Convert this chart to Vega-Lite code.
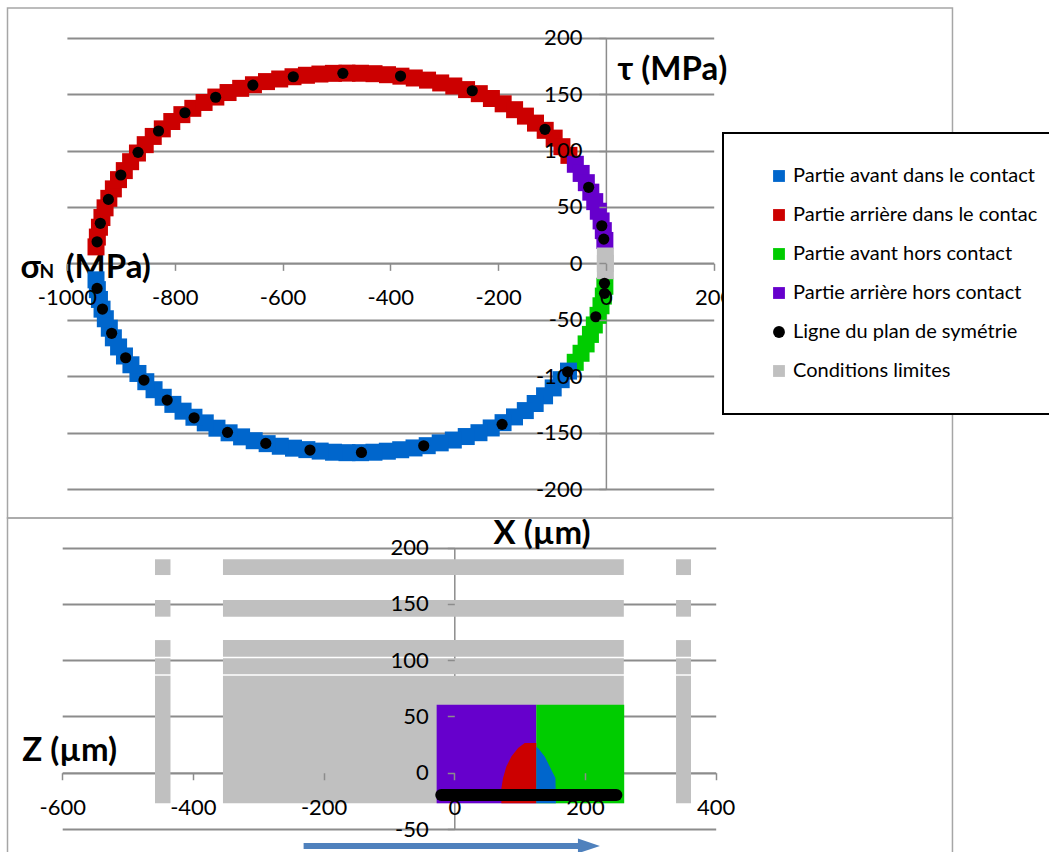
{
  "$schema": "https://vega.github.io/schema/vega-lite/v6.json",
  "width": 1049,
  "height": 852,
  "autosize": "none",
  "padding": 0,
  "background": "white",
  "config": {
    "view": {"stroke": null},
    "font": "Lato, Open Sans, sans-serif",
    "legend": {"strokeWidth": 2},
    "axis": {
      "labelFont": "Lato, Open Sans, sans-serif",
      "labelFontSize": 22,
      "labelColor": "black",
      "labelOverlap": false,
      "labelFlush": false,
      "labelExpr": "'' + datum.value",
      "tickColor": "#8c8c8c",
      "tickSize": 7,
      "tickWidth": 1.5,
      "domainColor": "#8c8c8c",
      "domainWidth": 1.5,
      "gridColor": "#8c8c8c",
      "gridWidth": 2,
      "titleFont": "Lato, Open Sans, sans-serif",
      "titleFontWeight": "bold",
      "titleFontSize": 33,
      "titleColor": "black",
      "titleAngle": 0,
      "titleAlign": "left",
      "titleBaseline": "alphabetic"
    }
  },
  "datasets": {
    "frameTop": [{"x1": -1110.2, "x2": 643, "y1": 226.3, "y2": -225.7}],
    "frameBottom": [{"x1": -683.7, "x2": 762.3, "y1": 226.4, "y2": -80}],
    "band": [
      {"s": -946.0, "t": 14.6, "serie": "Partie arrière dans le contac"},
      {"s": -943.5, "t": 23.3, "serie": "Partie arrière dans le contac"},
      {"s": -939.6, "t": 32.0, "serie": "Partie arrière dans le contac"},
      {"s": -935.0, "t": 40.6, "serie": "Partie arrière dans le contac"},
      {"s": -929.2, "t": 49.2, "serie": "Partie arrière dans le contac"},
      {"s": -922.2, "t": 57.6, "serie": "Partie arrière dans le contac"},
      {"s": -913.8, "t": 66.0, "serie": "Partie arrière dans le contac"},
      {"s": -904.3, "t": 74.2, "serie": "Partie arrière dans le contac"},
      {"s": -893.5, "t": 82.2, "serie": "Partie arrière dans le contac"},
      {"s": -881.8, "t": 90.1, "serie": "Partie arrière dans le contac"},
      {"s": -869.1, "t": 97.8, "serie": "Partie arrière dans le contac"},
      {"s": -854.7, "t": 105.2, "serie": "Partie arrière dans le contac"},
      {"s": -839.8, "t": 112.5, "serie": "Partie arrière dans le contac"},
      {"s": -823.0, "t": 119.2, "serie": "Partie arrière dans le contac"},
      {"s": -805.4, "t": 125.7, "serie": "Partie arrière dans le contac"},
      {"s": -786.7, "t": 131.8, "serie": "Partie arrière dans le contac"},
      {"s": -766.4, "t": 137.4, "serie": "Partie arrière dans le contac"},
      {"s": -745.5, "t": 142.6, "serie": "Partie arrière dans le contac"},
      {"s": -723.7, "t": 147.4, "serie": "Partie arrière dans le contac"},
      {"s": -701.0, "t": 151.4, "serie": "Partie arrière dans le contac"},
      {"s": -677.6, "t": 155.1, "serie": "Partie arrière dans le contac"},
      {"s": -653.9, "t": 158.3, "serie": "Partie arrière dans le contac"},
      {"s": -629.7, "t": 161.1, "serie": "Partie arrière dans le contac"},
      {"s": -605.2, "t": 163.4, "serie": "Partie arrière dans le contac"},
      {"s": -580.5, "t": 165.4, "serie": "Partie arrière dans le contac"},
      {"s": -555.6, "t": 166.7, "serie": "Partie arrière dans le contac"},
      {"s": -530.6, "t": 167.8, "serie": "Partie arrière dans le contac"},
      {"s": -505.5, "t": 168.4, "serie": "Partie arrière dans le contac"},
      {"s": -480.4, "t": 168.6, "serie": "Partie arrière dans le contac"},
      {"s": -455.3, "t": 168.5, "serie": "Partie arrière dans le contac"},
      {"s": -430.2, "t": 168.1, "serie": "Partie arrière dans le contac"},
      {"s": -405.2, "t": 167.2, "serie": "Partie arrière dans le contac"},
      {"s": -380.3, "t": 165.9, "serie": "Partie arrière dans le contac"},
      {"s": -355.5, "t": 164.3, "serie": "Partie arrière dans le contac"},
      {"s": -330.9, "t": 162.4, "serie": "Partie arrière dans le contac"},
      {"s": -306.5, "t": 159.9, "serie": "Partie arrière dans le contac"},
      {"s": -282.2, "t": 157.2, "serie": "Partie arrière dans le contac"},
      {"s": -258.5, "t": 154.0, "serie": "Partie arrière dans le contac"},
      {"s": -234.9, "t": 150.4, "serie": "Partie arrière dans le contac"},
      {"s": -212.4, "t": 146.1, "serie": "Partie arrière dans le contac"},
      {"s": -190.6, "t": 141.4, "serie": "Partie arrière dans le contac"},
      {"s": -169.4, "t": 136.2, "serie": "Partie arrière dans le contac"},
      {"s": -149.3, "t": 130.5, "serie": "Partie arrière dans le contac"},
      {"s": -130.6, "t": 124.3, "serie": "Partie arrière dans le contac"},
      {"s": -112.6, "t": 117.9, "serie": "Partie arrière dans le contac"},
      {"s": -96.0, "t": 111.0, "serie": "Partie arrière dans le contac"},
      {"s": -81.6, "t": 103.4, "serie": "Partie arrière dans le contac"},
      {"s": -68.6, "t": 95.7, "serie": "Partie arrière dans le contac"},
      {"s": -56.7, "t": 87.8, "serie": "Partie arrière hors contact"},
      {"s": -45.9, "t": 79.7, "serie": "Partie arrière hors contact"},
      {"s": -36.3, "t": 71.5, "serie": "Partie arrière hors contact"},
      {"s": -28.0, "t": 63.1, "serie": "Partie arrière hors contact"},
      {"s": -20.7, "t": 54.7, "serie": "Partie arrière hors contact"},
      {"s": -14.1, "t": 46.2, "serie": "Partie arrière hors contact"},
      {"s": -8.9, "t": 37.6, "serie": "Partie arrière hors contact"},
      {"s": -4.8, "t": 29.0, "serie": "Partie arrière hors contact"},
      {"s": -1.9, "t": 20.3, "serie": "Partie arrière hors contact"},
      {"s": -1.9, "t": -20.3, "serie": "Partie avant hors contact"},
      {"s": -4.8, "t": -29.0, "serie": "Partie avant hors contact"},
      {"s": -9.1, "t": -37.6, "serie": "Partie avant hors contact"},
      {"s": -14.6, "t": -46.1, "serie": "Partie avant hors contact"},
      {"s": -21.5, "t": -54.6, "serie": "Partie avant hors contact"},
      {"s": -28.7, "t": -63.0, "serie": "Partie avant hors contact"},
      {"s": -36.7, "t": -71.4, "serie": "Partie avant hors contact"},
      {"s": -46.1, "t": -79.7, "serie": "Partie avant hors contact"},
      {"s": -56.9, "t": -87.7, "serie": "Partie avant hors contact"},
      {"s": -69.4, "t": -95.5, "serie": "Partie avant dans le contact"},
      {"s": -83.0, "t": -103.1, "serie": "Partie avant dans le contact"},
      {"s": -97.8, "t": -110.4, "serie": "Partie avant dans le contact"},
      {"s": -113.8, "t": -117.4, "serie": "Partie avant dans le contact"},
      {"s": -131.2, "t": -124.2, "serie": "Partie avant dans le contact"},
      {"s": -149.5, "t": -130.5, "serie": "Partie avant dans le contact"},
      {"s": -169.6, "t": -136.1, "serie": "Partie avant dans le contact"},
      {"s": -190.8, "t": -141.2, "serie": "Partie avant dans le contact"},
      {"s": -212.8, "t": -145.9, "serie": "Partie avant dans le contact"},
      {"s": -235.5, "t": -150.1, "serie": "Partie avant dans le contact"},
      {"s": -259.1, "t": -153.5, "serie": "Partie avant dans le contact"},
      {"s": -283.1, "t": -156.6, "serie": "Partie avant dans le contact"},
      {"s": -307.4, "t": -159.1, "serie": "Partie avant dans le contact"},
      {"s": -331.5, "t": -161.6, "serie": "Partie avant dans le contact"},
      {"s": -356.0, "t": -163.6, "serie": "Partie avant dans le contact"},
      {"s": -380.7, "t": -165.2, "serie": "Partie avant dans le contact"},
      {"s": -405.5, "t": -166.5, "serie": "Partie avant dans le contact"},
      {"s": -430.3, "t": -167.4, "serie": "Partie avant dans le contact"},
      {"s": -455.3, "t": -167.8, "serie": "Partie avant dans le contact"},
      {"s": -480.4, "t": -167.8, "serie": "Partie avant dans le contact"},
      {"s": -505.3, "t": -167.4, "serie": "Partie avant dans le contact"},
      {"s": -530.1, "t": -166.4, "serie": "Partie avant dans le contact"},
      {"s": -554.8, "t": -165.1, "serie": "Partie avant dans le contact"},
      {"s": -579.6, "t": -163.8, "serie": "Partie avant dans le contact"},
      {"s": -604.1, "t": -162.1, "serie": "Partie avant dans le contact"},
      {"s": -628.5, "t": -159.8, "serie": "Partie avant dans le contact"},
      {"s": -652.5, "t": -157.2, "serie": "Partie avant dans le contact"},
      {"s": -675.9, "t": -153.8, "serie": "Partie avant dans le contact"},
      {"s": -699.1, "t": -150.2, "serie": "Partie avant dans le contact"},
      {"s": -721.6, "t": -146.1, "serie": "Partie avant dans le contact"},
      {"s": -743.3, "t": -141.4, "serie": "Partie avant dans le contact"},
      {"s": -764.3, "t": -136.4, "serie": "Partie avant dans le contact"},
      {"s": -784.5, "t": -131.0, "serie": "Partie avant dans le contact"},
      {"s": -803.4, "t": -125.0, "serie": "Partie avant dans le contact"},
      {"s": -821.3, "t": -118.7, "serie": "Partie avant dans le contact"},
      {"s": -838.3, "t": -112.0, "serie": "Partie avant dans le contact"},
      {"s": -853.6, "t": -104.9, "serie": "Partie avant dans le contact"},
      {"s": -868.2, "t": -97.6, "serie": "Partie avant dans le contact"},
      {"s": -881.2, "t": -89.9, "serie": "Partie avant dans le contact"},
      {"s": -893.2, "t": -82.1, "serie": "Partie avant dans le contact"},
      {"s": -904.1, "t": -74.1, "serie": "Partie avant dans le contact"},
      {"s": -913.8, "t": -66.0, "serie": "Partie avant dans le contact"},
      {"s": -921.3, "t": -57.5, "serie": "Partie avant dans le contact"},
      {"s": -928.7, "t": -49.1, "serie": "Partie avant dans le contact"},
      {"s": -934.8, "t": -40.6, "serie": "Partie avant dans le contact"},
      {"s": -939.6, "t": -32.0, "serie": "Partie avant dans le contact"},
      {"s": -943.5, "t": -23.3, "serie": "Partie avant dans le contact"},
      {"s": -946.0, "t": -14.6, "serie": "Partie avant dans le contact"},
      {"s": -1, "t": -6.5, "serie": "Conditions limites"},
      {"s": -1, "t": 0, "serie": "Conditions limites"},
      {"s": -1, "t": 6.5, "serie": "Conditions limites"}
    ],
    "dots": [
      {"s": -944, "t": 19.1, "serie": "Ligne du plan de symétrie"},
      {"s": -938, "t": 35.5, "serie": "Ligne du plan de symétrie"},
      {"s": -923, "t": 56.7, "serie": "Ligne du plan de symétrie"},
      {"s": -900, "t": 78.3, "serie": "Ligne du plan de symétrie"},
      {"s": -868, "t": 98.4, "serie": "Ligne du plan de symétrie"},
      {"s": -830, "t": 117.3, "serie": "Ligne du plan de symétrie"},
      {"s": -781, "t": 133.5, "serie": "Ligne du plan de symétrie"},
      {"s": -724, "t": 147.2, "serie": "Ligne du plan de symétrie"},
      {"s": -655, "t": 158, "serie": "Ligne du plan de symétrie"},
      {"s": -580, "t": 165.4, "serie": "Ligne du plan de symétrie"},
      {"s": -488, "t": 168.4, "serie": "Ligne du plan de symétrie"},
      {"s": -381, "t": 166, "serie": "Ligne du plan de symétrie"},
      {"s": -248, "t": 153, "serie": "Ligne du plan de symétrie"},
      {"s": -113, "t": 118.8, "serie": "Ligne du plan de symétrie"},
      {"s": -32, "t": 67.4, "serie": "Ligne du plan de symétrie"},
      {"s": -7.6, "t": 33.3, "serie": "Ligne du plan de symétrie"},
      {"s": -3.9, "t": 21.5, "serie": "Ligne du plan de symétrie"},
      {"s": -2.6, "t": -17.7, "serie": "Ligne du plan de symétrie"},
      {"s": -2.6, "t": -26.6, "serie": "Ligne du plan de symétrie"},
      {"s": -18.8, "t": -47.3, "serie": "Ligne du plan de symétrie"},
      {"s": -71, "t": -96.1, "serie": "Ligne du plan de symétrie"},
      {"s": -192.6, "t": -142.7, "serie": "Ligne du plan de symétrie"},
      {"s": -338, "t": -161.7, "serie": "Ligne du plan de symétrie"},
      {"s": -453.5, "t": -167.6, "serie": "Ligne du plan de symétrie"},
      {"s": -549, "t": -165.5, "serie": "Ligne du plan de symétrie"},
      {"s": -631, "t": -159.6, "serie": "Ligne du plan de symétrie"},
      {"s": -702, "t": -149.8, "serie": "Ligne du plan de symétrie"},
      {"s": -764, "t": -136.9, "serie": "Ligne du plan de symétrie"},
      {"s": -814, "t": -121.2, "serie": "Ligne du plan de symétrie"},
      {"s": -857, "t": -103.5, "serie": "Ligne du plan de symétrie"},
      {"s": -891, "t": -83.7, "serie": "Ligne du plan de symétrie"},
      {"s": -917, "t": -62, "serie": "Ligne du plan de symétrie"},
      {"s": -934, "t": -40.5, "serie": "Ligne du plan de symétrie"},
      {"s": -944, "t": -22.2, "serie": "Ligne du plan de symétrie"}
    ],
    "blocks": [
      {"x1": -458, "x2": -434.3, "z1": 175.7, "z2": 189.7, "serie": "Conditions limites"},
      {"x1": -458, "x2": -434.3, "z1": 138.7, "z2": 153.5, "serie": "Conditions limites"},
      {"x1": -458, "x2": -434.3, "z1": 103.1, "z2": 117.9, "serie": "Conditions limites"},
      {"x1": -458, "x2": -434.3, "z1": 87.5, "z2": 101.7, "serie": "Conditions limites"},
      {"x1": -458, "x2": -434.3, "z1": -27.2, "z2": 86.2, "serie": "Conditions limites"},
      {"x1": -354, "x2": 259.4, "z1": 175.7, "z2": 189.7, "serie": "Conditions limites"},
      {"x1": -354, "x2": 259.4, "z1": 138.7, "z2": 153.5, "serie": "Conditions limites"},
      {"x1": -354, "x2": 259.4, "z1": 103.1, "z2": 117.9, "serie": "Conditions limites"},
      {"x1": -354, "x2": 259.4, "z1": 87.5, "z2": 101.7, "serie": "Conditions limites"},
      {"x1": -354, "x2": 259.4, "z1": -27.2, "z2": 86.2, "serie": "Conditions limites"},
      {"x1": 339.3, "x2": 362.2, "z1": 175.7, "z2": 189.7, "serie": "Conditions limites"},
      {"x1": 339.3, "x2": 362.2, "z1": 138.7, "z2": 153.5, "serie": "Conditions limites"},
      {"x1": 339.3, "x2": 362.2, "z1": 103.1, "z2": 117.9, "serie": "Conditions limites"},
      {"x1": 339.3, "x2": 362.2, "z1": 87.5, "z2": 101.7, "serie": "Conditions limites"},
      {"x1": 339.3, "x2": 362.2, "z1": -27.2, "z2": 86.2, "serie": "Conditions limites"},
      {"x1": -27, "x2": 125.5, "z1": -27.2, "z2": 60.4, "serie": "Partie arrière hors contact"},
      {"x1": 125.5, "x2": 260, "z1": -27.2, "z2": 60.4, "serie": "Partie avant hors contact"}
    ],
    "zones": [
      {"x": 72, "z": -14, "z0": -27.2, "serie": "Partie arrière dans le contac"},
      {"x": 74.6, "z": -4.7, "z0": -27.2, "serie": "Partie arrière dans le contac"},
      {"x": 79.7, "z": 5.6, "z0": -27.2, "serie": "Partie arrière dans le contac"},
      {"x": 87.4, "z": 14.5, "z0": -27.2, "serie": "Partie arrière dans le contac"},
      {"x": 97.6, "z": 21.9, "z0": -27.2, "serie": "Partie arrière dans le contac"},
      {"x": 107.8, "z": 26.4, "z0": -27.2, "serie": "Partie arrière dans le contac"},
      {"x": 125.5, "z": 26.4, "z0": -27.2, "serie": "Partie arrière dans le contac"},
      {"x": 125.5, "z": 23, "z0": -27.2, "serie": "Partie avant dans le contact"},
      {"x": 128, "z": 21.9, "z0": -27.2, "serie": "Partie avant dans le contact"},
      {"x": 138.4, "z": 14.5, "z0": -27.2, "serie": "Partie avant dans le contact"},
      {"x": 146, "z": 5.6, "z0": -27.2, "serie": "Partie avant dans le contact"},
      {"x": 154.8, "z": -4.7, "z0": -27.2, "serie": "Partie avant dans le contact"},
      {"x": 155.5, "z": -27.2, "z0": -27.2, "serie": "Partie avant dans le contact"}
    ],
    "sym": [
      {"x": -20, "z": -19.8, "serie": "Ligne du plan de symétrie"},
      {"x": 248, "z": -19.8, "serie": "Ligne du plan de symétrie"}
    ],
    "arrow": [{"x1": -230.6, "x2": 193, "z": -65}],
    "head": [{"x": 206, "z": -65}]
  },
  "layer": [
    {
      "data": {"name": "frameTop"},
      "mark": {"type": "rect", "filled": false, "color": "#a6a6a6", "strokeWidth": 1.5},
      "encoding": {
        "x": {"field": "x1", "type": "quantitative",
          "scale": {"domain": [-1000, 200], "range": [66.9, 713.7], "nice": false, "zero": false},
          "axis": {"orient": "bottom", "offset": -588.65, "grid": false, "domain": true, "ticks": false, "labels": false, "title": "σ", "titleX": 20, "titleY": 13.65}},
        "x2": {"field": "x2"},
        "y": {"field": "y1", "type": "quantitative",
          "scale": {"domain": [-200, 200], "range": [489, 37.7], "nice": false, "zero": false},
          "axis": {"orient": "left", "offset": -605.9, "grid": true, "values": [-200, -150, -100, -50, 0, 50, 100, 150, 200], "domain": true, "ticks": false, "labels": false, "title": "(MPa)", "titleX": -540.9, "titleY": 277}},
        "y2": {"field": "y2"}
      }
    },
    {
      "data": {"name": "frameBottom"},
      "mark": {"type": "rect", "filled": false, "color": "#a6a6a6", "strokeWidth": 1.5},
      "encoding": {
        "x": {"field": "x1", "type": "quantitative",
          "scale": {"domain": [-600, 400], "range": [62.2, 715.7], "nice": false, "zero": false},
          "axis": {"orient": "bottom", "offset": -79.26, "grid": false, "domain": true, "ticks": false, "labels": false, "title": "X (µm)", "titleX": 493, "titleY": -229.4}},
        "x2": {"field": "x2"},
        "y": {"field": "y1", "type": "quantitative",
          "scale": {"domain": [-50, 200], "range": [829, 547.7], "nice": false, "zero": false},
          "axis": {"orient": "left", "offset": -454.3, "grid": true, "values": [-50, 0, 50, 100, 150, 200], "domain": true, "ticks": false, "labels": false, "title": "Z (µm)", "titleX": -432.6, "titleY": 760}},
        "y2": {"field": "y2"}
      }
    },
    {
      "layer": [
        {
          "data": {"name": "band"},
          "mark": {"type": "point", "filled": true, "size": 289, "opacity": 1, "strokeWidth": 0},
          "encoding": {
            "x": {"field": "s", "type": "quantitative",
              "scale": {"domain": [-1000, 200], "range": [66.9, 713.7], "nice": false, "zero": false},
              "axis": {"orient": "bottom", "offset": -588.65, "grid": false, "domain": false, "ticks": true, "labels": true, "values": [-1000, -800, -600, -400, -200, 0, 200], "labelPadding": 17, "title": "N", "titleX": 39, "titleY": 13.65, "titleFontSize": 19, "zindex": 1}},
            "y": {"field": "t", "type": "quantitative",
              "scale": {"domain": [-200, 200], "range": [489, 37.7], "nice": false, "zero": false},
              "axis": {"orient": "left", "offset": -605.9, "grid": false, "domain": false, "ticks": true, "labels": true, "values": [-200, -150, -100, -50, 0, 50, 100, 150, 200], "labelPadding": 17, "title": "τ (MPa)", "titleX": 11.1, "titleY": 79.5, "zindex": 1}},
            "color": {"field": "serie", "type": "nominal",
              "scale": {"domain": ["Partie avant dans le contact", "Partie arrière dans le contac", "Partie avant hors contact", "Partie arrière hors contact", "Ligne du plan de symétrie", "Conditions limites"],
                        "range": ["#0066CC", "#CC0000", "#00CC00", "#6600CC", "#000000", "#C0C0C0"]},
              "legend": {"orient": "none", "legendX": 723, "legendY": 133, "direction": "vertical", "title": null, "padding": 33, "strokeColor": "black", "fillColor": "white", "labelFont": "Lato, Open Sans, sans-serif", "labelFontSize": 20, "labelColor": "black", "labelLimit": 400, "symbolSize": 140, "symbolStrokeWidth": 0, "symbolOffset": 13, "labelOffset": 4, "rowPadding": 19, "zindex": 2}},
            "shape": {"field": "serie", "type": "nominal",
              "scale": {"domain": ["Partie avant dans le contact", "Partie arrière dans le contac", "Partie avant hors contact", "Partie arrière hors contact", "Ligne du plan de symétrie", "Conditions limites"],
                        "range": ["square", "square", "square", "square", "circle", "square"]},
              "legend": {"orient": "none", "legendX": 723, "legendY": 133, "direction": "vertical", "title": null, "padding": 33, "strokeColor": "black", "fillColor": "white", "labelFont": "Lato, Open Sans, sans-serif", "labelFontSize": 20, "labelColor": "black", "labelLimit": 400, "symbolSize": 140, "symbolStrokeWidth": 0, "symbolOffset": 13, "labelOffset": 4, "rowPadding": 19, "zindex": 2}}
          }
        },
        {
          "data": {"name": "dots"},
          "mark": {"type": "point", "filled": true, "size": 125, "opacity": 1, "strokeWidth": 0},
          "encoding": {
            "x": {"field": "s", "type": "quantitative",
              "scale": {"domain": [-1000, 200], "range": [66.9, 713.7], "nice": false, "zero": false},
              "axis": {"orient": "bottom", "offset": -588.65, "grid": false, "domain": false, "ticks": true, "labels": true, "values": [-1000, -800, -600, -400, -200, 0, 200], "labelPadding": 17, "title": "N", "titleX": 39, "titleY": 13.65, "titleFontSize": 19, "zindex": 1}},
            "y": {"field": "t", "type": "quantitative",
              "scale": {"domain": [-200, 200], "range": [489, 37.7], "nice": false, "zero": false},
              "axis": {"orient": "left", "offset": -605.9, "grid": false, "domain": false, "ticks": true, "labels": true, "values": [-200, -150, -100, -50, 0, 50, 100, 150, 200], "labelPadding": 17, "title": "τ (MPa)", "titleX": 11.1, "titleY": 79.5, "zindex": 1}},
            "color": {"field": "serie", "type": "nominal",
              "scale": {"domain": ["Partie avant dans le contact", "Partie arrière dans le contac", "Partie avant hors contact", "Partie arrière hors contact", "Ligne du plan de symétrie", "Conditions limites"],
                        "range": ["#0066CC", "#CC0000", "#00CC00", "#6600CC", "#000000", "#C0C0C0"]},
              "legend": {"orient": "none", "legendX": 723, "legendY": 133, "direction": "vertical", "title": null, "padding": 33, "strokeColor": "black", "fillColor": "white", "labelFont": "Lato, Open Sans, sans-serif", "labelFontSize": 20, "labelColor": "black", "labelLimit": 400, "symbolSize": 140, "symbolStrokeWidth": 0, "symbolOffset": 13, "labelOffset": 4, "rowPadding": 19, "zindex": 2}},
            "shape": {"field": "serie", "type": "nominal",
              "scale": {"domain": ["Partie avant dans le contact", "Partie arrière dans le contac", "Partie avant hors contact", "Partie arrière hors contact", "Ligne du plan de symétrie", "Conditions limites"],
                        "range": ["square", "square", "square", "square", "circle", "square"]},
              "legend": {"orient": "none", "legendX": 723, "legendY": 133, "direction": "vertical", "title": null, "padding": 33, "strokeColor": "black", "fillColor": "white", "labelFont": "Lato, Open Sans, sans-serif", "labelFontSize": 20, "labelColor": "black", "labelLimit": 400, "symbolSize": 140, "symbolStrokeWidth": 0, "symbolOffset": 13, "labelOffset": 4, "rowPadding": 19, "zindex": 2}}
          }
        }
      ]
    },
    {
      "layer": [
        {
          "data": {"name": "blocks"},
          "mark": {"type": "rect"},
          "encoding": {
            "x": {"field": "x1", "type": "quantitative",
              "scale": {"domain": [-600, 400], "range": [62.2, 715.7], "nice": false, "zero": false},
              "axis": {"orient": "bottom", "offset": -79.26, "grid": false, "domain": false, "ticks": true, "labels": true, "values": [-600, -400, -200, 0, 200, 400], "labelPadding": 18, "title": null, "zindex": 1}},
            "x2": {"field": "x2"},
            "y": {"field": "z1", "type": "quantitative",
              "scale": {"domain": [-50, 200], "range": [829, 547.7], "nice": false, "zero": false},
              "axis": {"orient": "left", "offset": -454.3, "grid": false, "domain": false, "ticks": true, "labels": true, "values": [-50, 0, 50, 100, 150, 200], "labelPadding": 19, "title": null, "zindex": 1}},
            "y2": {"field": "z2"},
            "color": {"field": "serie", "type": "nominal", "legend": null,
              "scale": {"domain": ["Partie avant dans le contact", "Partie arrière dans le contac", "Partie avant hors contact", "Partie arrière hors contact", "Ligne du plan de symétrie", "Conditions limites"],
                        "range": ["#0066CC", "#CC0000", "#00CC00", "#6600CC", "#000000", "#C0C0C0"]}}
          }
        },
        {
          "data": {"name": "zones"},
          "mark": {"type": "area", "interpolate": "linear", "opacity": 1},
          "encoding": {
            "x": {"field": "x", "type": "quantitative",
              "scale": {"domain": [-600, 400], "range": [62.2, 715.7], "nice": false, "zero": false},
              "axis": {"orient": "bottom", "offset": -79.26, "grid": false, "domain": false, "ticks": true, "labels": true, "values": [-600, -400, -200, 0, 200, 400], "labelPadding": 18, "title": null, "zindex": 1}},
            "y": {"field": "z", "type": "quantitative", "stack": null,
              "scale": {"domain": [-50, 200], "range": [829, 547.7], "nice": false, "zero": false},
              "axis": {"orient": "left", "offset": -454.3, "grid": false, "domain": false, "ticks": true, "labels": true, "values": [-50, 0, 50, 100, 150, 200], "labelPadding": 19, "title": null, "zindex": 1}},
            "y2": {"field": "z0"},
            "color": {"field": "serie", "type": "nominal", "legend": null,
              "scale": {"domain": ["Partie avant dans le contact", "Partie arrière dans le contac", "Partie avant hors contact", "Partie arrière hors contact", "Ligne du plan de symétrie", "Conditions limites"],
                        "range": ["#0066CC", "#CC0000", "#00CC00", "#6600CC", "#000000", "#C0C0C0"]}}
          }
        },
        {
          "data": {"name": "sym"},
          "mark": {"type": "line", "strokeWidth": 12, "strokeCap": "round"},
          "encoding": {
            "x": {"field": "x", "type": "quantitative",
              "scale": {"domain": [-600, 400], "range": [62.2, 715.7], "nice": false, "zero": false},
              "axis": {"orient": "bottom", "offset": -79.26, "grid": false, "domain": false, "ticks": true, "labels": true, "values": [-600, -400, -200, 0, 200, 400], "labelPadding": 18, "title": null, "zindex": 1}},
            "y": {"field": "z", "type": "quantitative",
              "scale": {"domain": [-50, 200], "range": [829, 547.7], "nice": false, "zero": false},
              "axis": {"orient": "left", "offset": -454.3, "grid": false, "domain": false, "ticks": true, "labels": true, "values": [-50, 0, 50, 100, 150, 200], "labelPadding": 19, "title": null, "zindex": 1}},
            "color": {"field": "serie", "type": "nominal", "legend": null,
              "scale": {"domain": ["Partie avant dans le contact", "Partie arrière dans le contac", "Partie avant hors contact", "Partie arrière hors contact", "Ligne du plan de symétrie", "Conditions limites"],
                        "range": ["#0066CC", "#CC0000", "#00CC00", "#6600CC", "#000000", "#C0C0C0"]}}
          }
        },
        {
          "data": {"name": "arrow"},
          "mark": {"type": "rule", "color": "#4F81BD", "strokeWidth": 6},
          "encoding": {
            "x": {"field": "x1", "type": "quantitative",
              "scale": {"domain": [-600, 400], "range": [62.2, 715.7], "nice": false, "zero": false},
              "axis": {"orient": "bottom", "offset": -79.26, "grid": false, "domain": false, "ticks": true, "labels": true, "values": [-600, -400, -200, 0, 200, 400], "labelPadding": 18, "title": null, "zindex": 1}},
            "x2": {"field": "x2"},
            "y": {"field": "z", "type": "quantitative",
              "scale": {"domain": [-50, 200], "range": [829, 547.7], "nice": false, "zero": false},
              "axis": {"orient": "left", "offset": -454.3, "grid": false, "domain": false, "ticks": true, "labels": true, "values": [-50, 0, 50, 100, 150, 200], "labelPadding": 19, "title": null, "zindex": 1}}
          }
        },
        {
          "data": {"name": "head"},
          "mark": {"type": "point", "shape": "M-1,-0.68L1,0L-1,0.68Z", "size": 484, "filled": true, "opacity": 1, "color": "#4F81BD", "strokeWidth": 0},
          "encoding": {
            "x": {"field": "x", "type": "quantitative",
              "scale": {"domain": [-600, 400], "range": [62.2, 715.7], "nice": false, "zero": false},
              "axis": {"orient": "bottom", "offset": -79.26, "grid": false, "domain": false, "ticks": true, "labels": true, "values": [-600, -400, -200, 0, 200, 400], "labelPadding": 18, "title": null, "zindex": 1}},
            "y": {"field": "z", "type": "quantitative",
              "scale": {"domain": [-50, 200], "range": [829, 547.7], "nice": false, "zero": false},
              "axis": {"orient": "left", "offset": -454.3, "grid": false, "domain": false, "ticks": true, "labels": true, "values": [-50, 0, 50, 100, 150, 200], "labelPadding": 19, "title": null, "zindex": 1}}
          }
        }
      ]
    }
  ],
  "resolve": {"scale": {"x": "independent", "y": "independent", "color": "independent", "shape": "independent"}}
}
